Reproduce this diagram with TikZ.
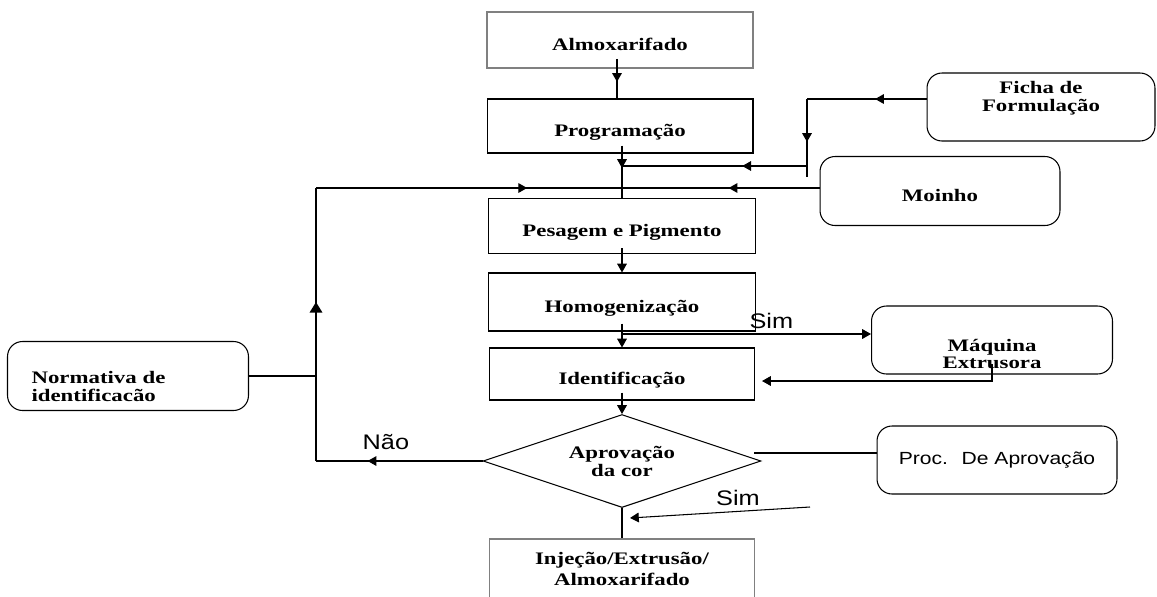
\documentclass[tikz,border=0pt]{standalone}
\usepackage{fontspec}
\setmainfont{Liberation Serif}[FakeStretch=1.3]
\newfontfamily\labfont{Liberation Sans}[FakeStretch=1.2]
\usetikzlibrary{arrows.meta,shapes.geometric,decorations.markings}
\definecolor{boxgray}{HTML}{808080}

\begin{document}
\begin{tikzpicture}[x=0.02cm,y=-0.02cm,
  every node/.style={font=\fontsize{10}{10.2}\selectfont\bfseries,inner sep=0pt,align=center},
  line/.style={line width=0.6pt},
  tip/.style={-{Triangle[length=5pt,width=5.5pt]}},
  arrat/.style={decoration={markings,mark=at position #1 with {\arrow{Triangle[length=5pt,width=5.5pt]}}},postaction={decorate}},
  box/.style 2 args={draw,line width=0.6pt,minimum width=#1,minimum height=#2},
  oneline/.style={text height=14pt,text depth=2pt},
  lowtext/.style={text height=33pt,text depth=0pt},
  hightext/.style={text height=17pt,text depth=12pt},
  greybox/.style={draw=boxgray,line width=1pt},
  rbox/.style 2 args={box={#1}{#2},rounded corners=0.3cm},
  lab/.style={font=\labfont\fontsize{12}{12}\selectfont}]
\useasboundingbox (0,0) rectangle (1157,596);

% main flow
\node[box={5.32cm}{1.12cm},greybox,oneline] (almox) at (620,40) {Almoxarifado};
\node[box={5.32cm}{1.08cm},oneline] (prog) at (620,126) {Programação};
\node[box={5.34cm}{1.10cm},oneline] (pesag) at (622,226) {Pesagem e Pigmento};
\node[box={5.34cm}{1.16cm},oneline] (homog) at (622,302) {Homogenização};
\node[box={5.30cm}{1.04cm},oneline] (ident) at (622,374) {Identificação};
\node[draw,diamond,aspect=3,line width=0.6pt,minimum width=5.56cm,minimum height=1.86cm] (aprov) at (622,461) {Aprovação\\da cor};
\node[box={5.30cm}{1.20cm},greybox] (injec) at (622,569) {Injeção/Extrusão/\\[1.5pt]Almoxarifado};

% side boxes
\node[rbox={4.56cm}{1.36cm},hightext] (ficha) at (1041,107) {Ficha de\\Formulação};
\node[rbox={4.80cm}{1.38cm},oneline] (moinho) at (940,191) {Moinho};
\node[rbox={4.82cm}{1.36cm},lowtext] (maq) at (992,340) {Máquina\\Extrusora};
\node[rbox={4.82cm}{1.38cm},text height=19.5pt,text depth=10.5pt,inner xsep=0.48cm,text width=3.86cm,align=left] (norm) at (128,376) {Normativa de\\identificacão};
\node[rbox={4.80cm}{1.36cm},font=\labfont\fontsize{10}{10}\selectfont] (proc) at (997,460) {Proc.~ De Aprovação};

\coordinate (fcant) at (807,99);
\coordinate (fbase) at (807,177);
\coordinate (fjun) at (807,166);
\coordinate (ltop) at (316,188);
\coordinate (upa) at (316,352);
\coordinate (upb) at (316,302);
\coordinate (hsim) at (622,334);
\coordinate (mtop) at (992,364);
\coordinate (mret) at (992,381);
\coordinate (pa) at (754,453);
\coordinate (sa) at (810,507);
\coordinate (sb) at (630,518);

% connectors
\draw[line,arrat=0.58] ([shift={(-3,-10)}]almox.south) -- ([shift={(-3,0)}]prog.north);
\draw[line,tip] ([shift={(2,-8)}]prog.south) -- ([shift={(0,2)}]fjun -| pesag.north);
\draw[line] (fjun -| pesag.north) -- (pesag.north);
\draw[line,arrat=0.43] (ficha.west |- fcant) -- (fcant);
\draw[line,arrat=0.55] (fcant) -- (fbase);
\draw[line,arrat=0.35] (fjun) -- (fjun -| pesag.north);
\draw[line,arrat=0.46] (moinho.west |- ltop) -- (ltop -| pesag.north);
\draw[line,tip] ([shift={(0,-6)}]pesag.south) -- (homog.north);
\draw[line,tip] ([shift={(0,-8)}]homog.south) -- (ident.north);
\draw[line,tip] ([shift={(0,-8)}]ident.south) -- (aprov.north);

% loop back
\draw[line,arrat=0.69] (aprov.west) -- (aprov.west -| ltop) node[lab,pos=0.58,above=6pt] {Não};
\draw[line] (aprov.west -| ltop) -- (ltop);
\draw[line,arrat=0.69] (ltop) -- (ltop -| pesag.north);
\draw[line width=1.3pt,-{Triangle[length=6pt,width=7pt]}] (upa) -- (upb);
\draw[line] (norm.east) -- (norm.east -| ltop);

% extrusora
\draw[line,tip] (hsim) -- (hsim -| maq.west) node[lab,pos=0.6,above=3pt] {Sim};
\draw[line,tip,shorten >=4pt] (mtop) -- (mret) -- (mret -| ident.east);

% aprovacao
\draw[line] (pa) -- (pa -| proc.west);
\draw[line] (aprov.south) -- (injec.north);
\draw[line,tip] (sa) -- (sb) node[lab,pos=0.4,above=3pt] {Sim};
\end{tikzpicture}
\end{document}
